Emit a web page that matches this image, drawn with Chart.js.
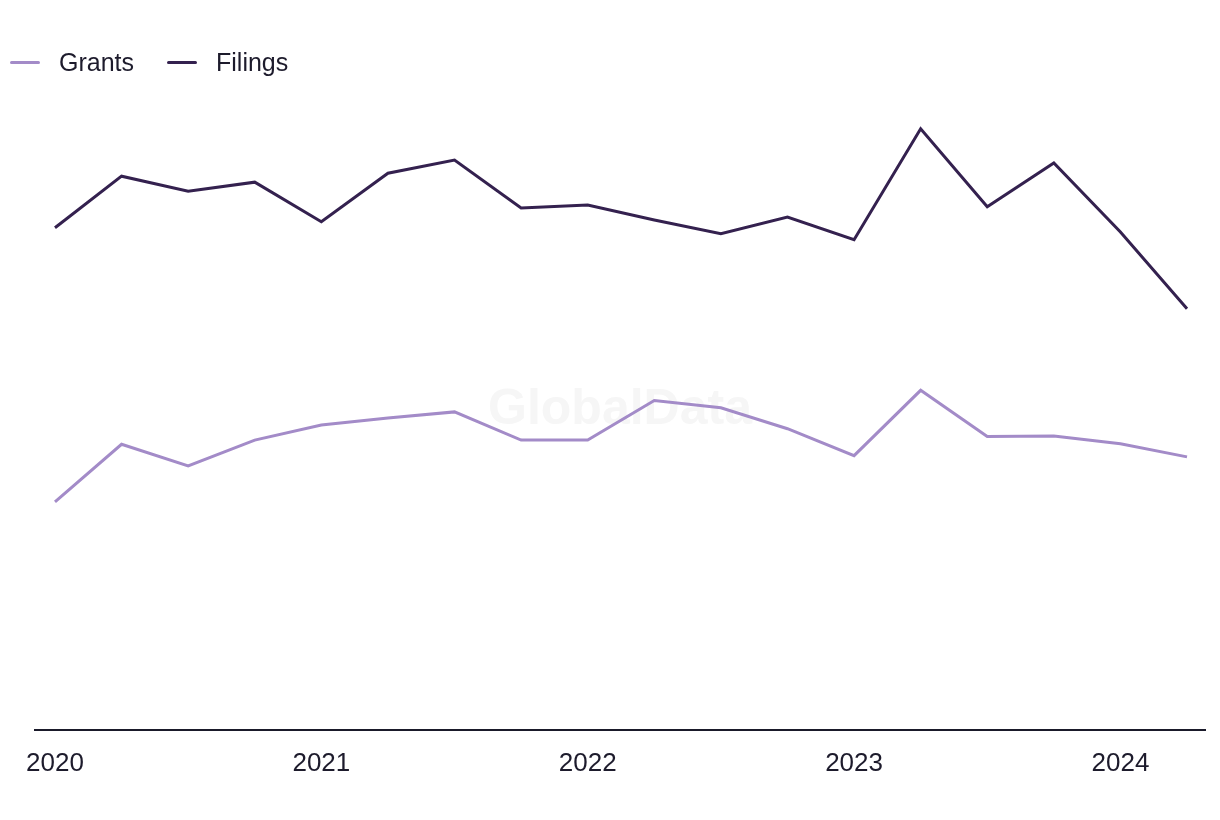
<!DOCTYPE html>
<html>
<head>
<meta charset="utf-8">
<script src="https://cdn.jsdelivr.net/npm/chart.js@4"></script>
<style>
  html, body { margin: 0; padding: 0; background: #ffffff; }
  #wrap { position: relative; width: 1220px; height: 820px; }
  #legend {
    position: absolute; left: 10px; top: 48px;
    display: flex; align-items: center;
    font-family: "Liberation Sans", Arial, sans-serif; font-size: 25px; color: #1d1b2c;
  }
  .item { display: flex; align-items: center; margin-right: 33px; }
  .swatch { width: 30px; height: 3px; border-radius: 2px; margin-right: 19px; }
</style>
</head>
<body>
<div id="wrap">
  <canvas id="trendChart" width="1220" height="820"></canvas>
  <div id="legend"></div>
</div>
<script>
const FONT_COLOR = "#1d1b2c";
const AXIS_COLOR = "#1a1a2a";
const PALETTE = {
  lightPurple: "#a38bc8",
  darkPurple: "#34214f",
};

// quarterly, 2020 Q1 .. 2024 Q2
const quarters = [
  "2020 Q1", "2020 Q2", "2020 Q3", "2020 Q4",
  "2021 Q1", "2021 Q2", "2021 Q3", "2021 Q4",
  "2022 Q1", "2022 Q2", "2022 Q3", "2022 Q4",
  "2023 Q1", "2023 Q2", "2023 Q3", "2023 Q4",
  "2024 Q1", "2024 Q2",
];
const grants = [38, 47.6, 44, 48.3, 50.8, 52, 53, 48.3, 48.3, 54.9, 53.7, 50.2, 45.7, 56.6, 48.9, 49, 47.7, 45.5];
const filings = [83.7, 92.3, 89.8, 91.3, 84.7, 92.8, 95, 87, 87.5, 85, 82.7, 85.5, 81.7, 100.2, 87.2, 94.5, 83, 70.2];
const yearTicks = [0, 4, 8, 12, 16];
const yearLabels = ["2020", "2021", "2022", "2023", "2024"];

const seriesList = [
  { label: "Grants", data: grants, color: PALETTE.lightPurple },
  { label: "Filings", data: filings, color: PALETTE.darkPurple },
];

// html legend
const legendEl = document.getElementById("legend");
seriesList.forEach((s) => {
  const item = document.createElement("div");
  item.className = "item";
  item.innerHTML = '<span class="swatch" style="background:' + s.color + '"></span><span>' + s.label + "</span>";
  legendEl.appendChild(item);
});

const watermark = {
  id: "watermark",
  beforeDatasetsDraw(chart) {
    const { ctx, chartArea } = chart;
    ctx.save();
    ctx.font = "bold 50px 'Liberation Sans', Arial, sans-serif";
    ctx.fillStyle = "#f6f6f6";
    ctx.textAlign = "center";
    ctx.textBaseline = "middle";
    ctx.fillText("GlobalData", (chartArea.left + chartArea.right) / 2, 410);
    ctx.restore();
  },
};

new Chart(document.getElementById("trendChart"), {
  type: "line",
  data: {
    datasets: seriesList.map((s) => ({
      label: s.label,
      data: s.data.map((v, i) => ({ x: i, y: v })),
      borderColor: s.color,
      backgroundColor: s.color,
      borderWidth: 3,
      pointRadius: 0,
      tension: 0,
    })),
  },
  options: {
    responsive: false,
    animation: false,
    layout: { padding: { top: 100, left: 35, right: 15, bottom: 31 } },
    plugins: {
      legend: { display: false },
      tooltip: {
        callbacks: {
          title: (items) => quarters[items[0].parsed.x],
        },
      },
    },
    scales: {
      x: {
        type: "linear",
        min: -0.3,
        max: 17.27,
        afterBuildTicks: (axis) => {
          axis.ticks = yearTicks.map((v) => ({ value: v }));
        },
        ticks: {
          color: FONT_COLOR,
          padding: 10,
          autoSkip: false,
          maxRotation: 0,
          font: { family: "'Liberation Sans', Arial, sans-serif", size: 26 },
          callback: (v) => yearLabels[yearTicks.indexOf(v)],
        },
        grid: { display: false },
        border: { display: true, color: AXIS_COLOR, width: 2 },
      },
      y: {
        display: false,
        min: 0,
        max: 105,
      },
    },
  },
  plugins: [watermark],
});
</script>
</body>
</html>
